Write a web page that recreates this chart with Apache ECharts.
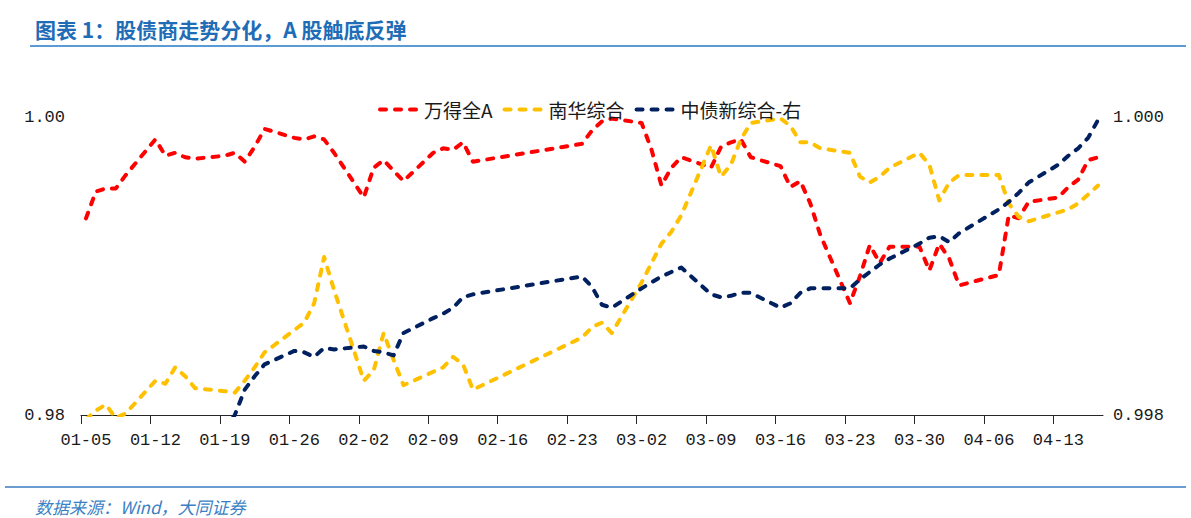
<!DOCTYPE html>
<html>
<head>
<meta charset="utf-8">
<title>股债商走势分化</title>
<script src="https://cdn.jsdelivr.net/npm/echarts@6/dist/echarts.min.js"></script>
<style>
  html, body { margin: 0; padding: 0; background: #ffffff; }
  #chart { width: 1191px; height: 518px; }
</style>
</head>
<body>
<div id="chart"></div>
<script>
// ---------------- data ----------------
const titleText = '图表 1：股债商走势分化，A 股触底反弹';
const sourceText = '数据来源：Wind，大同证券';
const seriesNames = ['万得全A', '南华综合', '中债新综合-右'];

const tickLabels = ['01-05','01-12','01-19','01-26','02-02','02-09','02-16','02-23',
                    '03-02','03-09','03-16','03-23','03-30','04-06','04-13'];

const dates = [
  '01-05','01-06','01-07','01-08','01-09',
  '01-12','01-13','01-14','01-15','01-16',
  '01-19','01-20','01-21','01-22','01-23',
  '01-26','01-27','01-28','01-29','01-30',
  '02-02','02-03','02-04','02-05','02-06',
  '02-09','02-10','02-11','02-12','02-13',
  '02-24','02-25','02-26','02-27',
  '03-02','03-03','03-04','03-05','03-06',
  '03-09','03-10','03-11','03-12','03-13',
  '03-16','03-17','03-18','03-19','03-20',
  '03-23','03-24','03-25','03-26','03-27',
  '03-30','03-31','04-01','04-02','04-03',
  '04-07','04-08','04-09','04-10',
  '04-13','04-14','04-15','04-16','04-17'
];

const windA = [
  0.9932,0.9950,0.9952,0.9952,0.9961,
  0.9985,0.9974,0.9976,0.9973,0.9972,
  0.9974,0.9976,0.9970,0.9980,0.9992,
  0.9986,0.9985,0.9987,0.9985,0.9976,
  0.9946,0.9966,0.9971,0.9964,0.9957,
  0.9976,0.9979,0.9978,0.9983,0.9970,
  0.9982,0.9991,0.9997,0.9999,
  0.9996,0.9978,0.9954,0.9966,0.9973,
  0.9966,0.9980,0.9983,0.9985,0.9973,
  0.9967,0.9953,0.9957,0.9942,0.9921,
  0.9875,0.9893,0.9914,0.9902,0.9913,
  0.9913,0.9897,0.9915,0.9905,0.9887,
  0.9894,0.9934,0.9932,0.9943,
  0.9946,0.9953,0.9958,0.9971,0.9973
];

const nanhua = [
  0.9797,0.9803,0.9807,0.9798,0.9801,
  0.9823,0.9821,0.9832,0.9826,0.9818,
  0.9816,0.9815,0.9823,0.9832,0.9842,
  0.9857,0.9862,0.9875,0.9906,0.9884,
  0.9823,0.9830,0.9855,0.9837,0.9820,
  0.9829,0.9832,0.9839,0.9834,0.9817,
  0.9852,0.9859,0.9862,0.9855,
  0.9889,0.9902,0.9915,0.9923,0.9934,
  0.9981,0.9960,0.9968,0.9985,0.9996,
  0.9999,0.9994,0.9983,0.9983,0.9979,
  0.9976,0.9960,0.9956,0.9960,0.9966,
  0.9976,0.9968,0.9944,0.9956,0.9961,
  0.9961,0.9942,0.9933,0.9930,
  0.9936,0.9938,0.9942,0.9948,0.9954
];

const chinaBond = [
  null,null,null,null,null,
  null,null,null,null,null,
  0.99790,0.99800,0.99817,0.99826,0.99834,
  0.99843,0.99842,0.99839,0.99845,0.99844,
  0.99846,0.99843,0.99842,0.99840,0.99855,
  0.99865,0.99868,0.99872,0.99879,0.99881,
  0.99893,0.99886,0.99874,0.99872,
  0.99885,0.99889,0.99893,0.99896,0.99899,
  0.99881,0.99879,0.99880,0.99882,0.99882,
  0.99872,0.99875,0.99882,0.99885,0.99885,
  0.99885,0.99891,0.99896,0.99901,0.99905,
  0.99915,0.99919,0.99920,0.99916,0.99922,
  0.99938,0.99943,0.99949,0.99956,
  0.99968,0.99974,0.99979,0.99986,0.99998
];

const leftRange = [0.98, 1.00];
const rightRange = [0.998, 1.000];

// ---------------- helpers ----------------
const YEAR = 2026;
function dayOffset(md) {
  const [m, d] = md.split('-').map(Number);
  return (Date.UTC(YEAR, m - 1, d) - Date.UTC(YEAR, 0, 5)) / 86400000;
}
const lastDay = dayOffset(dates[dates.length - 1]);
function pairs(vals) {
  const out = [];
  dates.forEach((d, i) => { if (vals[i] !== null) out.push([dayOffset(d), vals[i]]); });
  return out;
}
const labelPos = tickLabels.map(dayOffset);
const tickPos = labelPos.map(v => v - 0.5);

const dash = { width: 4, type: [6, 9], cap: 'round', join: 'round' };
const colors = ['#FF0000', '#FFC000', '#002060'];

const chart = echarts.init(document.getElementById('chart'), null, { renderer: 'svg' });
chart.setOption({
  animation: false,
  backgroundColor: '#ffffff',
  grid: { left: 81, right: 88, top: 117, bottom: 103, outerBoundsMode: 'none' },
  legend: {
    data: seriesNames,
    left: 373, top: 95,
    itemWidth: 39, itemHeight: 14, itemGap: 10,
    selectedMode: false,
    itemStyle: { opacity: 0, borderWidth: 0 },
    lineStyle: { width: 4, cap: 'round' },
    textStyle: { fontFamily: '"Noto Sans CJK SC"', fontSize: 19, color: '#1a1a1a' }
  },
  xAxis: {
    type: 'value', min: -0.5, max: lastDay + 0.5,
    splitLine: { show: false },
    axisLine: { show: true, onZero: false, lineStyle: { color: '#262626', width: 1 } },
    axisTick: { show: true, inside: false, length: 9, customValues: tickPos,
                lineStyle: { color: '#262626', width: 1 } },
    axisLabel: { customValues: labelPos, margin: 17,
                 formatter: v => { const i = labelPos.indexOf(v); return i >= 0 ? tickLabels[i] : ''; },
                 fontFamily: '"Liberation Mono"', fontSize: 17, color: '#1a1a1a' }
  },
  yAxis: [
    { type: 'value', position: 'left', min: leftRange[0], max: leftRange[1],
      splitLine: { show: false }, axisLine: { show: false }, axisTick: { show: false },
      axisLabel: { customValues: leftRange, formatter: v => v.toFixed(2), margin: 16,
                   fontFamily: '"Liberation Mono"', fontSize: 17, color: '#1a1a1a' } },
    { type: 'value', position: 'right', min: rightRange[0], max: rightRange[1],
      splitLine: { show: false }, axisLine: { show: false }, axisTick: { show: false },
      axisLabel: { customValues: rightRange, formatter: v => v.toFixed(3), margin: 10,
                   fontFamily: '"Liberation Mono"', fontSize: 17, color: '#1a1a1a' } }
  ],
  series: [
    { name: seriesNames[0], type: 'line', yAxisIndex: 0, data: pairs(windA),
      symbol: 'none', smooth: false, clip: true, color: colors[0],
      lineStyle: Object.assign({ color: colors[0] }, dash), emphasis: { disabled: true } },
    { name: seriesNames[1], type: 'line', yAxisIndex: 0, data: pairs(nanhua),
      symbol: 'none', smooth: false, clip: true, color: colors[1],
      lineStyle: Object.assign({ color: colors[1] }, dash), emphasis: { disabled: true } },
    { name: seriesNames[2], type: 'line', yAxisIndex: 1, data: pairs(chinaBond),
      symbol: 'none', smooth: false, clip: true, color: colors[2],
      lineStyle: Object.assign({ color: colors[2] }, dash), emphasis: { disabled: true } }
  ],
  graphic: [
    { type: 'text', x: 35, y: 29, silent: true,
      style: { text: titleText, font: 'bold 21px "Noto Sans CJK SC"', fill: '#1f6db6',
               verticalAlign: 'middle', align: 'left' } },
    { type: 'line', silent: true, shape: { x1: 30, y1: 46, x2: 1186, y2: 46 },
      style: { stroke: '#5b9bd5', lineWidth: 2 } },
    { type: 'line', silent: true, shape: { x1: 5, y1: 487, x2: 1186, y2: 487 },
      style: { stroke: '#3a7dc0', lineWidth: 1.5 } },
    { type: 'text', x: 35, y: 506, silent: true,
      style: { text: sourceText, font: 'italic 17px "Noto Sans CJK SC"', fill: '#3b7fc4',
               verticalAlign: 'middle', align: 'left' } }
  ]
});
</script>
</body>
</html>
